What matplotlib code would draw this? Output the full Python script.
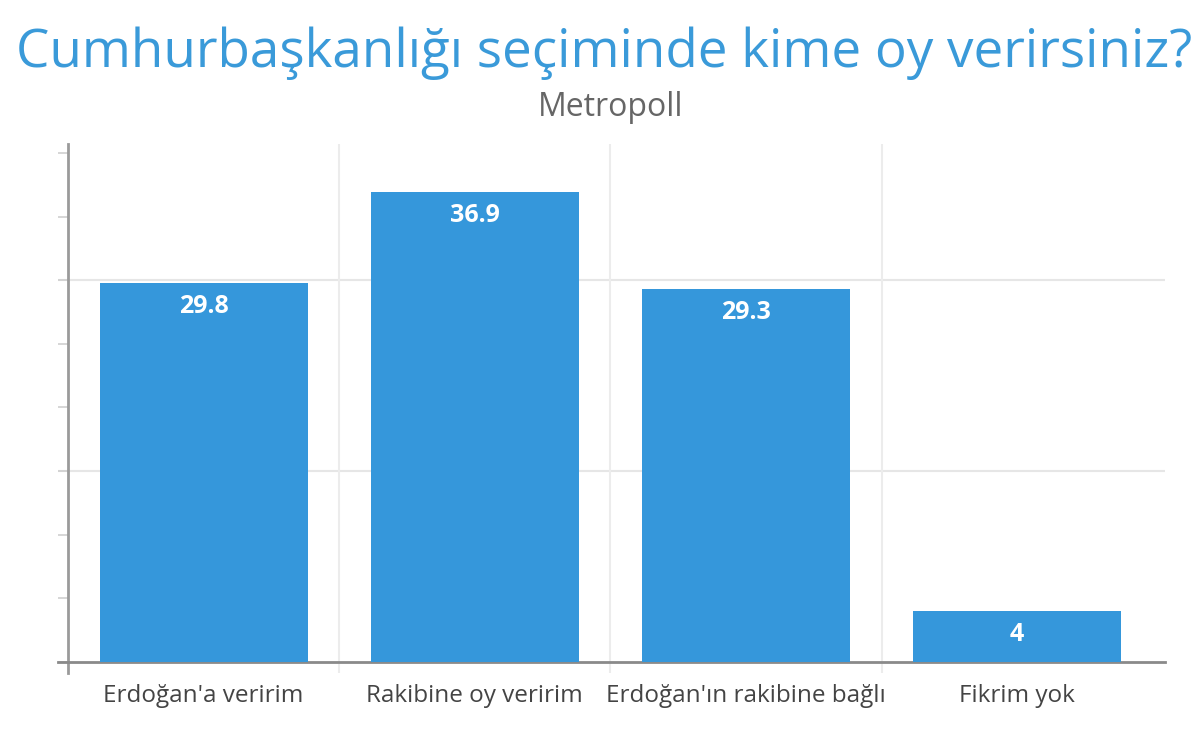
import numpy as np
import matplotlib.pyplot as plt
from matplotlib.ticker import MultipleLocator

plt.rcParams['font.family'] = ['Open Sans', 'DejaVu Sans']

kategoriler = ["Erdoğan'a veririm", "Rakibine oy veririm",
               "Erdoğan'ın rakibine bağlı", "Fikrim yok"]
oranlar = [29.8, 36.9, 29.3, 4]

baslik = "Cumhurbaşkanlığı seçiminde kime oy verirsiniz?"
alt_baslik = "Metropoll"

mavi = '#3597db'

fig = plt.figure(figsize=(12, 7.32), dpi=100)
ax = fig.add_axes([0.0483, 0.0806, 0.9225, 0.7227])

x = np.arange(len(kategoriler))
bars = ax.bar(x, oranlar, width=0.767, color=mavi, zorder=3)

for b, v in zip(bars, oranlar):
    ax.text(b.get_x() + b.get_width() / 2, v - 0.85, f'{v:g}',
            ha='center', va='top', color='white', fontsize=18,
            fontweight='bold', zorder=4)

ax.set_xlim(-0.537, 3.545)
ax.set_ylim(-0.86, 40.7)

# izgara
for g in [15, 30]:
    ax.axhline(g, color='#e6e6e6', lw=1.5, zorder=1)
for s in [0.5, 1.5, 2.5]:
    ax.axvline(s, color='#ececec', lw=1.5, zorder=1)

for k in ['top', 'right']:
    ax.spines[k].set_visible(False)
ax.spines['left'].set_position(('data', -0.5))
ax.spines['bottom'].set_position(('data', 0))
ax.spines['left'].set_color('#9a9a9a')
ax.spines['bottom'].set_color('#8a8a8a')
ax.spines['left'].set_linewidth(2)
ax.spines['bottom'].set_linewidth(2)

ax.yaxis.set_major_locator(MultipleLocator(5))
ax.tick_params(axis='y', direction='out', length=7, width=1.2,
               color='#d0d0d0', labelleft=False)
ax.set_xticks(x)
ax.set_xticklabels(kategoriler, fontsize=17.5, color='#444444')
ax.tick_params(axis='x', length=0, pad=16)

fig.text(16 / 1200, 1 - 67 / 732, baslik, ha='left', va='baseline',
         fontsize=38.2, color='#3a9ad9')
fig.text(611 / 1200, 1 - 116 / 732, alt_baslik, ha='center', va='baseline',
         fontsize=23, color='#666666')

fig.savefig('out.png', dpi=100)
